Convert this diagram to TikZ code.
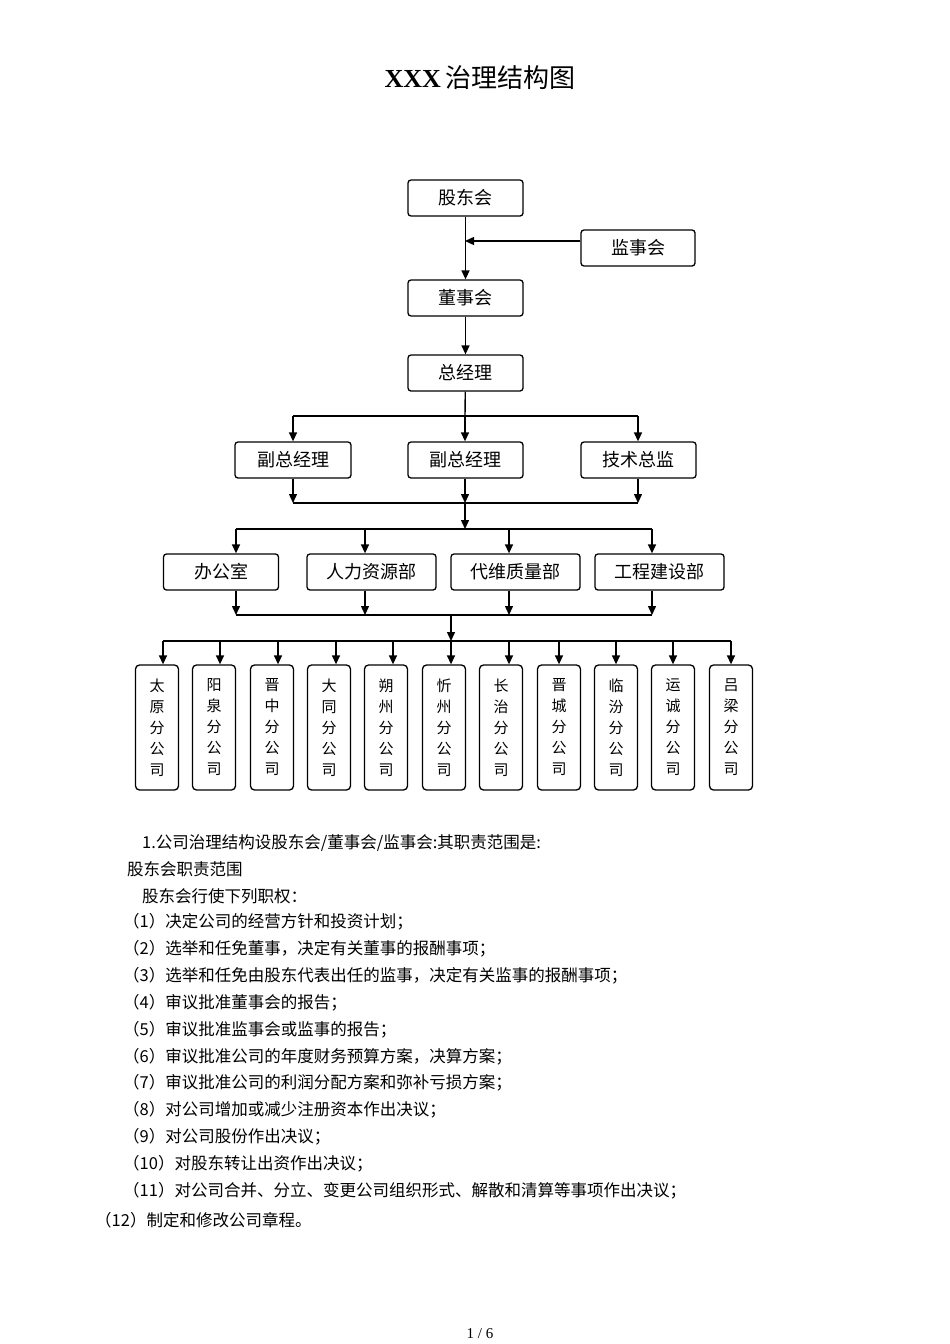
\documentclass[tikz,border=0pt]{standalone}
\usepackage{fontspec}
\setmainfont{Liberation Serif}
\newfontfamily\cjk{Noto Sans CJK SC}
\usetikzlibrary{arrows.meta}
\begin{document}
\begin{tikzpicture}[x=1pt,y=-1pt,
 bx/.style={draw,rounded corners=3pt,line width=1.3pt,font=\cjk\fontsize{18}{18}\selectfont,inner sep=0pt},
 vb/.style={draw,rounded corners=4pt,line width=1.3pt,minimum width=43pt,minimum height=125pt,inner sep=0pt,font=\cjk\fontsize{15}{21}\selectfont,align=center},
 ar/.style={line width=1.4pt,-{Triangle[length=9pt,width=8pt]}},
 ln/.style={line width=1.4pt},
 tx/.style={anchor=west,font=\cjk\fontsize{16.5}{16.5}\selectfont,inner sep=0pt}]
\useasboundingbox (0,0) rectangle (950,1344);
\node at (480,78) {\fontsize{26}{26}\selectfont\textbf{XXX}\,{\cjk 治理结构图}};
\node[bx,minimum width=115pt,minimum height=36pt] (gd) at (465.5,198) {股东会};
\node[bx,minimum width=114pt,minimum height=36pt] (js) at (638,248) {监事会};
\node[bx,minimum width=115pt,minimum height=36pt] (ds) at (465.5,298) {董事会};
\node[bx,minimum width=115pt,minimum height=36pt] (zj) at (465.5,373) {总经理};
\coordinate (jj) at (465,241);
\draw[ar] (gd) -- (ds);
\draw[ar] (js.west|-jj) -- (jj);
\draw[ar] (ds) -- (zj);
\node[bx,minimum width=116pt,minimum height=36pt] (f1) at (293,460) {副总经理};
\node[bx,minimum width=115pt,minimum height=36pt] (f2) at (465.5,460) {副总经理};
\node[bx,minimum width=115pt,minimum height=36pt] (f3) at (638.5,460) {技术总监};
\coordinate (h1) at (465,416);
\draw[ln] (zj) -- (h1);
\draw[ln] (293,416) -- (638,416);
\foreach \n/\x in {f1/293,f2/465,f3/638}{\draw[ar] (\x,416) -- (\n.north-|\x,0);}
\coordinate (h2) at (465,503);
\draw[ln] (293,503) -- (638,503);
\foreach \n/\x in {f1/293,f2/465,f3/638}{\draw[ar] (\n.south-|\x,0) -- (\x,503);}
\node[bx,minimum width=115pt,minimum height=36pt] (b1) at (221,572) {办公室};
\node[bx,minimum width=129pt,minimum height=36pt] (b2) at (371.5,572) {人力资源部};
\node[bx,minimum width=129pt,minimum height=36pt] (b3) at (515.5,572) {代维质量部};
\node[bx,minimum width=129pt,minimum height=36pt] (b4) at (659.5,572) {工程建设部};
\draw[ar] (h2) -- (465,529);
\draw[ln] (236,529) -- (652,529);
\foreach \n/\x in {b1/236,b2/365,b3/509,b4/652}{\draw[ar] (\x,529) -- (\n.north-|\x,0);}
\draw[ln] (236,615) -- (652,615);
\foreach \n/\x in {b1/236,b2/365,b3/509,b4/652}{\draw[ar] (\n.south-|\x,0) -- (\x,615);}
\draw[ar] (451,615) -- (451,641);
\draw[ln] (163,641) -- (731,641);
\foreach \i/\c/\a/\t in {1/157/163/太\\原\\分\\公\\司,2/214/220/阳\\泉\\分\\公\\司,3/272/278/晋\\中\\分\\公\\司,4/329/336/大\\同\\分\\公\\司,5/386/393/朔\\州\\分\\公\\司,6/444/451/忻\\州\\分\\公\\司,7/501/509/长\\治\\分\\公\\司,8/559/559/晋\\城\\分\\公\\司,9/616/616/临\\汾\\分\\公\\司,10/673/673/运\\诚\\分\\公\\司,11/731/731/吕\\梁\\分\\公\\司}{
 \node[vb] (s\i) at (\c,727.5) {\t};
 \draw[ar] (\a,641) -- (s\i.north-|\a,0);}
\node[tx] at (142,843) {1.公司治理结构设股东会/董事会/监事会:其职责范围是:};
\node[tx] at (127,869) {股东会职责范围};
\node[tx] at (142,896) {股东会行使下列职权：};
\foreach \y/\t in {922/（1）决定公司的经营方针和投资计划；,949/（2）选举和任免董事，决定有关董事的报酬事项；,976/（3）选举和任免由股东代表出任的监事，决定有关监事的报酬事项；,1003/（4）审议批准董事会的报告；,1030/（5）审议批准监事会或监事的报告；,1057/（6）审议批准公司的年度财务预算方案，决算方案；,1083/（7）审议批准公司的利润分配方案和弥补亏损方案；,1110/（8）对公司增加或减少注册资本作出决议；,1137/（9）对公司股份作出决议；,1164/（10）对股东转让出资作出决议；,1191/（11）对公司合并、分立、变更公司组织形式、解散和清算等事项作出决议；}{\node[tx] at (123,\y) {\t};}
\node[tx] at (95,1220) {（12）制定和修改公司章程。};
\node at (480,1334) {\fontsize{15}{15}\selectfont 1 / 6};
\end{tikzpicture}
\end{document}
